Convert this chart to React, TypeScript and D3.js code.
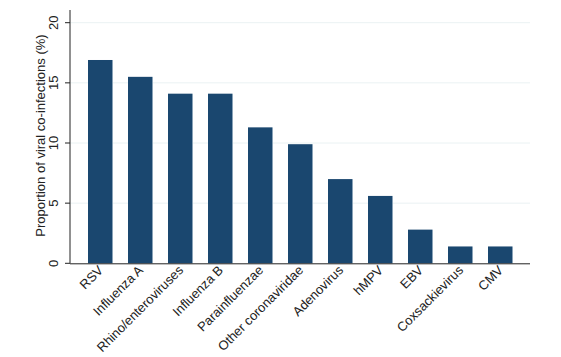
import React from "react";
import * as d3 from "d3";

const categories = [
  "RSV",
  "Influenza A",
  "Rhino/enteroviruses",
  "Influenza B",
  "Parainfluenzae",
  "Other coronaviridae",
  "Adenovirus",
  "hMPV",
  "EBV",
  "Coxsackievirus",
  "CMV",
];
const values = [16.9, 15.5, 14.1, 14.1, 11.3, 9.9, 7.0, 5.6, 2.8, 1.4, 1.4];
const yTicks = [0, 5, 10, 15, 20];
const yLabel = "Proportion of viral co-infections (%)";

export default function App() {
  const W = 561;
  const H = 357;
  const x0 = 70;
  const x1 = 530;
  const x = d3.scaleBand<string>().domain(categories).range([80, 520]).paddingInner(0.4).paddingOuter(0.2);
  const y = d3.scaleLinear().domain([0, 20]).range([263.3, 22.7]);
  const font = "'Liberation Sans', Arial, sans-serif";
  return (
    <svg width={W} height={H} style={{ position: "absolute", left: 0, top: 0 }} fontFamily={font}>
      <rect x={0} y={0} width={W} height={H} fill="#fff" />
      {yTicks.filter((t) => t > 0).map((t) => (
        <line key={"g" + t} x1={x0} x2={x1} y1={y(t)} y2={y(t)} stroke="#eaf2f3" strokeWidth={1} />
      ))}
      {categories.map((c, i) => (
        <g key={c}>
          <rect x={x(c)!} y={y(values[i])} width={x.bandwidth()} height={y(0) - y(values[i])} fill="#1a476f" />
          <rect x={x(c)! + x.bandwidth()} y={y(values[i])} width={1} height={y(0) - y(values[i])} fill="#8aa3b8" />
        </g>
      ))}
      <line x1={x0} x2={x0} y1={10} y2={y(0)} stroke="#222" strokeWidth={1} />
      <line x1={x0} x2={x1} y1={y(0) + 0.5} y2={y(0) + 0.5} stroke="#222" strokeWidth={1} />
      {yTicks.map((t) => (
        <g key={"t" + t}>
          <line x1={x0 - 5} x2={x0} y1={y(t)} y2={y(t)} stroke="#222" strokeWidth={1} />
          <text
            transform={`translate(${58},${y(t)}) rotate(-90)`}
            textAnchor="middle"
            fontSize={13}
            fill="#222"
          >
            {t}
          </text>
        </g>
      ))}
      <text
        transform={`translate(${45},${135.5}) rotate(-90)`}
        textAnchor="middle"
        fontSize={13}
        fill="#222"
      >
        {yLabel}
      </text>
      {categories.map((c) => (
        <text
          key={"l" + c}
          transform={`translate(${x(c)! + x.bandwidth() / 2 + 4},${271}) rotate(-45)`}
          textAnchor="end"
          fontSize={13}
          fill="#222"
        >
          {c}
        </text>
      ))}
    </svg>
  );
}
